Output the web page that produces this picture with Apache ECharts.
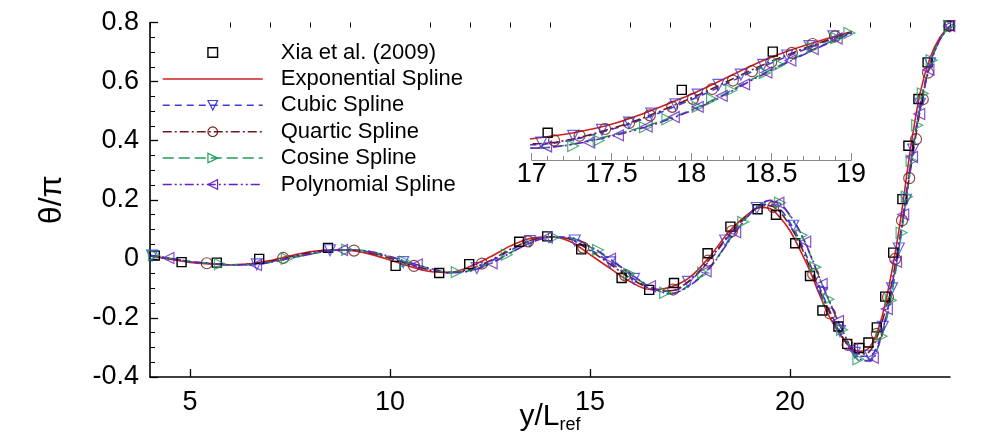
<!DOCTYPE html>
<html>
<head>
<meta charset="utf-8">
<script src="https://cdn.jsdelivr.net/npm/echarts@6/dist/echarts.min.js"></script>
<style>
  html, body { margin: 0; padding: 0; background: #fff; }
  #chart { width: 1000px; height: 445px; }
</style>
</head>
<body>
<div id="chart"></div>
<script>
// sample positions along y/L_ref for the spline curves
var xGrid = [4, 4.5, 5, 5.5, 6, 6.5, 7, 7.5, 8, 8.5, 9, 9.5, 10, 10.5, 11, 11.5, 12, 12.5, 13, 13.5,
  14, 14.5, 15, 15.5, 16, 16.5, 17, 17.5, 18, 18.5, 19,
  19.25, 19.5, 19.75, 20, 20.25, 20.5, 20.75, 21, 21.25, 21.5, 21.75, 22, 22.25, 22.5, 22.75, 23, 23.25, 23.5, 23.75, 24];

var expV = [0.010, -0.001, -0.012, -0.017, -0.020, -0.017, -0.006, 0.010, 0.024, 0.030, 0.028, 0.016, -0.004, -0.026, -0.043, -0.046, -0.026, 0.006, 0.043, 0.069,
  0.074, 0.059, 0.014, -0.032, -0.077, -0.104, -0.096, -0.062, 0.009, 0.096, 0.156,
  0.174, 0.170, 0.140, 0.095, 0.030, -0.042, -0.125, -0.200, -0.255, -0.298, -0.313, -0.298, -0.220, -0.075, 0.120, 0.360, 0.560, 0.680, 0.750, 0.788];

var cubicV = [0.011, 0.001, -0.010, -0.016, -0.020, -0.019, -0.010, 0.005, 0.019, 0.029, 0.031, 0.022, 0.004, -0.018, -0.036, -0.047, -0.037, -0.010, 0.028, 0.060,
  0.075, 0.068, 0.032, -0.012, -0.060, -0.097, -0.110, -0.074, -0.004, 0.082, 0.154,
  0.178, 0.186, 0.168, 0.122, 0.060, -0.018, -0.100, -0.178, -0.245, -0.300, -0.330, -0.328, -0.270, -0.135, 0.060, 0.300, 0.520, 0.660, 0.745, 0.788];

var quarticV = [0.010, 0.000, -0.010, -0.016, -0.020, -0.018, -0.008, 0.007, 0.021, 0.030, 0.030, 0.020, 0.002, -0.020, -0.038, -0.047, -0.034, -0.006, 0.032, 0.062,
  0.075, 0.066, 0.028, -0.018, -0.065, -0.100, -0.108, -0.072, 0.000, 0.086, 0.155,
  0.176, 0.180, 0.158, 0.112, 0.050, -0.030, -0.110, -0.185, -0.250, -0.300, -0.322, -0.312, -0.235, -0.110, 0.075, 0.290, 0.500, 0.655, 0.745, 0.788];

var cosineV = [0.012, 0.002, -0.009, -0.015, -0.020, -0.020, -0.012, 0.002, 0.016, 0.027, 0.031, 0.024, 0.007, -0.014, -0.033, -0.046, -0.040, -0.016, 0.020, 0.054,
  0.073, 0.071, 0.040, -0.002, -0.052, -0.094, -0.118, -0.088, -0.028, 0.067, 0.153,
  0.182, 0.194, 0.188, 0.145, 0.090, 0.015, -0.070, -0.150, -0.225, -0.295, -0.345, -0.342, -0.280, -0.150, 0.055, 0.300, 0.515, 0.658, 0.743, 0.788];

var polyV = [0.012, 0.002, -0.009, -0.015, -0.020, -0.020, -0.012, 0.002, 0.016, 0.027, 0.031, 0.025, 0.008, -0.013, -0.032, -0.046, -0.041, -0.017, 0.019, 0.053,
  0.073, 0.072, 0.042, 0.000, -0.050, -0.093, -0.118, -0.090, -0.030, 0.065, 0.152,
  0.184, 0.198, 0.186, 0.148, 0.092, 0.018, -0.068, -0.148, -0.225, -0.292, -0.340, -0.346, -0.275, -0.125, 0.070, 0.310, 0.510, 0.655, 0.742, 0.788];

// Xia et al. (2009) reference points
var xiaPts = [[4.12, 0.011], [4.79, -0.011], [5.67, -0.013], [6.73, 0.000], [8.45, 0.037], [10.14, -0.024], [11.23, -0.048], [11.98, -0.018],
  [13.23, 0.058], [13.93, 0.076], [14.78, 0.032], [15.79, -0.065], [16.48, -0.105], [17.10, -0.082], [17.94, 0.019], [18.51, 0.109],
  [19.19, 0.168], [19.65, 0.149], [20.13, 0.053], [20.50, -0.058], [20.81, -0.175], [21.21, -0.229], [21.43, -0.288], [21.73, -0.302],
  [21.96, -0.283], [22.17, -0.232], [22.38, -0.128], [22.58, 0.021], [22.81, 0.202], [22.96, 0.383], [23.21, 0.541], [23.44, 0.665], [23.98, 0.789]];

// symbol positions on the main plot
var cubicMarks = [[4.05, 0.011], [6.67, -0.019], [8.5, 0.029], [10.33, -0.011], [12.17, -0.031], [13.5, 0.060], [14.62, 0.062], [15.5, -0.012],
  [16.1, -0.068], [17.45, -0.078], [18.38, 0.062], [19.17, 0.172], [20.08, 0.112], [20.8, -0.115], [21.25, -0.245], [21.62, -0.318],
  [22.0, -0.328], [22.32, -0.230], [22.55, -0.100], [22.72, 0.035], [22.9, 0.200], [23.08, 0.370], [23.25, 0.525], [23.5, 0.662], [23.98, 0.788]];

var quarticMarks = [[5.42, -0.015], [7.33, 0.003], [9.1, 0.028], [10.6, -0.024], [12.3, -0.016], [13.45, 0.059], [14.83, 0.038], [15.88, -0.056],
  [17.08, -0.104], [17.95, -0.006], [18.55, 0.094], [19.58, 0.176], [20.58, -0.052], [21.0, -0.185], [21.44, -0.291], [22.17, -0.254],
  [22.45, -0.130], [22.63, 0.000], [22.8, 0.130], [22.98, 0.273], [23.15, 0.405], [23.32, 0.540], [23.45, 0.630], [23.98, 0.788]];

var cosineMarks = [[4.1, 0.012], [5.75, -0.018], [7.42, 0.000], [8.93, 0.031], [10.38, -0.010], [11.67, -0.045], [12.92, 0.014], [14.1, 0.073],
  [15.2, 0.030], [15.98, -0.050], [16.88, -0.115], [17.83, -0.048], [18.83, 0.125], [19.75, 0.190], [20.29, 0.080], [20.63, -0.028],
  [20.96, -0.137], [21.3, -0.240], [21.71, -0.340], [22.29, -0.262], [22.52, -0.140], [22.79, 0.088], [22.92, 0.210], [23.04, 0.332],
  [23.18, 0.452], [23.32, 0.560], [23.54, 0.672], [23.98, 0.788]];

var polyMarks = [[4.46, 0.003], [6.65, -0.021], [8.8, 0.030], [10.67, -0.019], [12.54, -0.015], [13.92, 0.072], [15.5, 0.000], [16.5, -0.093],
  [17.89, -0.042], [18.63, 0.090], [19.71, 0.190], [20.38, 0.058], [20.79, -0.085], [21.2, -0.210], [21.55, -0.305], [22.07, -0.335],
  [22.42, -0.170], [22.65, -0.010], [22.83, 0.150], [23.05, 0.345], [23.23, 0.490], [23.46, 0.640], [23.98, 0.788]];

// symbol positions inside the zoomed inset (17 to 19)
var cubicInset = [[17.06, -0.105], [17.26, -0.089], [17.44, -0.075], [17.61, -0.058], [17.75, -0.037], [17.90, -0.015], [18.04, 0.008],
  [18.17, 0.031], [18.31, 0.055], [18.45, 0.078], [18.60, 0.100], [18.74, 0.122], [18.89, 0.145]];
var quarticInset = [[17.14, -0.100], [17.30, -0.089], [17.46, -0.073], [17.61, -0.059], [17.74, -0.041], [17.88, -0.021], [18.01, -0.002],
  [18.13, 0.021], [18.26, 0.041], [18.38, 0.063], [18.50, 0.084], [18.63, 0.106], [18.76, 0.127], [18.90, 0.145]];
var cosineInset = [[17.26, -0.113], [17.42, -0.100], [17.71, -0.069], [17.85, -0.050], [18.04, -0.021], [18.13, -0.003], [18.25, 0.018],
  [18.46, 0.059], [18.55, 0.078], [18.76, 0.118], [18.91, 0.141], [18.99, 0.153]];
var polyInset = [[17.09, -0.114], [17.36, -0.105], [17.54, -0.088], [17.72, -0.067], [17.89, -0.045], [18.04, -0.021], [18.19, 0.005],
  [18.33, 0.032], [18.47, 0.060], [18.62, 0.088], [18.76, 0.115], [18.91, 0.140]];

var xMajorTicks = [5, 10, 15, 20];
var xMinorTicks = [4, 6, 7, 8, 9, 11, 12, 13, 14, 16, 17, 18, 19, 21, 22, 23, 24];

var names = ['Xia et al. (2009)', 'Exponential Spline', 'Cubic Spline', 'Quartic Spline', 'Cosine Spline', 'Polynomial Spline'];

(function() {
  var font = '"Liberation Sans", Arial, sans-serif';
  var red = '#d11f1f', blue = '#3c3cd8', brown = '#6e1a1a', green = '#1f9e5a', purple = '#6a1fc4';
  var clear = 'rgba(0,0,0,0)';

  function curve(vals) {
    return xGrid.map(function(x, i) { return [x, vals[i]]; });
  }

  // one spline: line (no symbols) and hollow markers on top
  var specs = [
    { name: names[1], vals: expV, color: red, dash: 'solid', symbol: 'none', rot: 0 },
    { name: names[2], vals: cubicV, color: blue, dash: [7, 5], symbol: 'triangle', rot: 180, marks: cubicMarks, inset: cubicInset, size: 11 },
    { name: names[3], vals: quarticV, color: brown, dash: [9, 3, 2, 3], symbol: 'circle', rot: 0, marks: quarticMarks, inset: quarticInset, size: 11 },
    { name: names[4], vals: cosineV, color: green, dash: [11, 5], symbol: 'triangle', rot: -90, marks: cosineMarks, inset: cosineInset, size: 11 },
    { name: names[5], vals: polyV, color: purple, dash: [9, 3, 2, 3, 2, 3], symbol: 'triangle', rot: 90, marks: polyMarks, inset: polyInset, size: 11 }
  ];

  var series = [];
  [0, 1].forEach(function(g) {
    var tag = g === 0 ? '' : ' inset';
    series.push({
      name: names[0] + tag, type: 'line', xAxisIndex: g === 0 ? 0 : 2, yAxisIndex: g,
      data: xiaPts, symbol: 'rect', symbolSize: 9, showSymbol: true, clip: true,
      lineStyle: { width: 0 },
      itemStyle: { color: clear, borderColor: '#000', borderWidth: 1.4 },
      z: 3
    });
    specs.forEach(function(s) {
      series.push({
        name: s.name + tag, type: 'line', xAxisIndex: g === 0 ? 0 : 2, yAxisIndex: g,
        data: curve(s.vals), smooth: 0.35, showSymbol: false, clip: true,
        symbol: s.symbol, symbolRotate: s.rot,
        lineStyle: { color: s.color, width: 1.6, type: s.dash },
        itemStyle: { color: s.color },
        z: 2
      });
    });
    specs.forEach(function(s) {
      if (!s.marks) return;
      series.push({
        name: s.name + tag, type: 'scatter', xAxisIndex: g === 0 ? 0 : 2, yAxisIndex: g,
        data: g === 0 ? s.marks : s.inset, symbol: s.symbol, symbolRotate: s.rot, symbolSize: s.size, clip: true,
        itemStyle: { color: clear, borderColor: s.color, borderWidth: 1.2 },
        z: 4
      });
    });
  });

  var legendData = [
    { name: names[0], itemStyle: { color: clear, borderColor: '#000', borderWidth: 1.4 }, lineStyle: { width: 0 } },
    { name: names[1], itemStyle: { color: clear, borderColor: clear, borderWidth: 0 } }
  ];
  specs.slice(1).forEach(function(s) {
    legendData.push({ name: s.name, itemStyle: { color: clear, borderColor: s.color, borderWidth: 1.2 } });
  });

  var chart = echarts.init(document.getElementById('chart'));
  chart.setOption({
    animation: false,
    textStyle: { fontFamily: font },
    legend: {
      data: legendData, orient: 'vertical', left: 162, top: 41.5, padding: 0,
      itemWidth: 100, itemHeight: 12, itemGap: 4.4, selectedMode: false,
      lineStyle: { width: 1.5 },
      textStyle: { fontSize: 22, lineHeight: 22, color: '#000', fontFamily: font, padding: [0, 0, 0, 13] }
    },
    grid: [
      { left: 150, top: 22.5, width: 800, height: 354.5, outerBoundsMode: 'none' },
      { left: 531.7, top: 13, width: 319.3, height: 147, outerBoundsMode: 'none' }
    ],
    xAxis: [
      {
        type: 'value', gridIndex: 0, min: 4, max: 24,
        axisLine: { onZero: false, lineStyle: { color: '#000', width: 1.6 } },
        axisTick: { inside: true, length: 8, customValues: xMajorTicks, lineStyle: { color: '#000', width: 1.3 } },
        axisLabel: { customValues: xMajorTicks, fontSize: 27, color: '#000', margin: 12, fontFamily: font },
        splitLine: { show: false },
        name: '{a|y/L}{b|ref}', nameLocation: 'middle', nameGap: 23, nameMoveOverlap: false,
        nameTextStyle: {
          color: '#000',
          rich: {
            a: { fontSize: 30, fontFamily: font, color: '#000', lineHeight: 34 },
            b: { fontSize: 18, fontFamily: font, color: '#000', lineHeight: 34, padding: [16, 0, 0, 0] }
          }
        }
      },
      {
        type: 'value', gridIndex: 0, min: 4, max: 24,
        axisLine: { show: false, onZero: false },
        axisTick: { inside: true, length: 5, customValues: xMinorTicks, lineStyle: { color: '#000', width: 1 } },
        axisLabel: { show: false },
        splitLine: { show: false }
      },
      {
        type: 'value', gridIndex: 1, min: 17, max: 19, interval: 0.5,
        axisLine: { onZero: false, lineStyle: { color: '#8a8a8a', width: 1 } },
        axisTick: { inside: true, length: 7, lineStyle: { color: '#8a8a8a' } },
        minorTick: { show: true, splitNumber: 5, length: 4, lineStyle: { color: '#8a8a8a' } },
        axisLabel: { fontSize: 27, color: '#000', margin: 1, fontFamily: font },
        splitLine: { show: false }
      }
    ],
    yAxis: [
      {
        type: 'value', gridIndex: 0, min: -0.4, max: 0.8, interval: 0.2,
        axisLine: { show: true, onZero: false, lineStyle: { color: '#000', width: 1.6 } },
        axisTick: { inside: true, length: 8, lineStyle: { color: '#000', width: 1.3 } },
        minorTick: { show: true, splitNumber: 4, length: 5, lineStyle: { color: '#000', width: 1 } },
        axisLabel: { fontSize: 27, color: '#000', margin: 11, fontFamily: font },
        splitLine: { show: false },
        name: 'θ/π', nameLocation: 'middle', nameRotate: 90, nameGap: 82, nameMoveOverlap: false,
        nameTextStyle: { fontSize: 32, color: '#000', fontFamily: font }
      },
      {
        type: 'value', gridIndex: 1, min: -0.146, max: 0.2, show: false
      }
    ],
    series: series
  });
  window.addEventListener('resize', function() { chart.resize(); });
})();
</script>
</body>
</html>
